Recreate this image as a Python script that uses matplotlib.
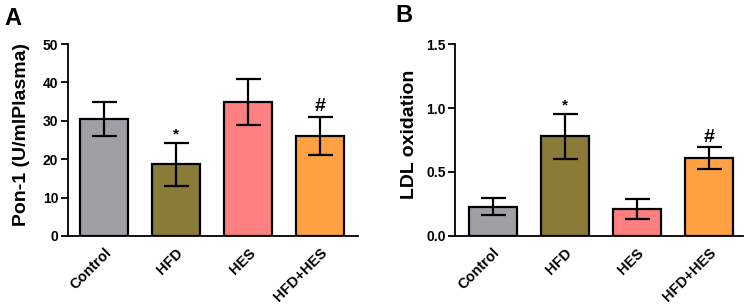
import matplotlib
matplotlib.use("Agg")
import matplotlib.pyplot as plt

groups = ["Control", "HFD", "HES", "HFD+HES"]
colors = ["#A09FA4", "#8B7B38", "#FF8080", "#FFA142"]

pon1_mean = [30.5, 18.7, 34.8, 26.1]
pon1_err = [4.5, 5.6, 6.0, 5.0]
pon1_marks = ["", "*", "", "#"]

ldl_mean = [0.23, 0.78, 0.21, 0.61]
ldl_err = [0.07, 0.175, 0.075, 0.083]
ldl_marks = ["", "*", "", "#"]

plt.rcParams['font.family'] = ['Liberation Sans', 'DejaVu Sans']
plt.rcParams['font.weight'] = 'bold'

fig = plt.figure(figsize=(7.5, 3.08), dpi=100)
ax_a = fig.add_axes([0.0907, 0.234, 0.387, 0.623])
ax_b = fig.add_axes([0.607, 0.234, 0.384, 0.623])


def draw_panel(ax, means, errs, marks, ylim, ticks, ylabel, xlim, mark_off):
    x = range(len(groups))
    ax.bar(x, means, width=0.67, color=colors, edgecolor='black', linewidth=1.6, zorder=2)
    ax.errorbar(x, means, yerr=errs, fmt='none', ecolor='black', elinewidth=1.6,
                capsize=9, capthick=1.6, zorder=3)
    for i, m in enumerate(marks):
        if m:
            ax.text(i, means[i] + errs[i] + mark_off, m, ha='center', va='bottom',
                    fontsize=14 if m == '#' else 11, fontweight='bold')
    ax.set_xlim(*xlim)
    ax.set_ylim(*ylim)
    ax.set_yticks(ticks)
    ax.set_xticks(list(x))
    ax.set_xticklabels(groups, rotation=45, ha='right', rotation_mode='anchor', fontsize=10.5)
    ax.tick_params(axis='y', labelsize=10, length=5, width=1.3, pad=2)
    ax.tick_params(axis='x', length=0, pad=7)
    ax.set_ylabel(ylabel, fontsize=14, fontweight='bold')
    ax.yaxis.set_label_coords(-0.13, 0.53)
    for s in ['top', 'right']:
        ax.spines[s].set_visible(False)
    for s in ['left', 'bottom']:
        ax.spines[s].set_linewidth(1.3)


draw_panel(ax_a, pon1_mean, pon1_err, pon1_marks, (0, 50), [0, 10, 20, 30, 40, 50],
           "Pon-1 (U/mlPlasma)", (-0.5, 3.53), 0.3)
draw_panel(ax_b, ldl_mean, ldl_err, ldl_marks, (0, 1.5), [0.0, 0.5, 1.0, 1.5],
           "LDL oxidation", (-0.52, 3.48), 0.01)
ax_b.set_yticklabels(["0.0", "0.5", "1.0", "1.5"])
ax_b.yaxis.set_label_coords(-0.128, 0.53)

fig.text(0.006, 0.94, "A", fontsize=17, fontweight='bold', va='center')
fig.text(0.527, 0.95, "B", fontsize=17, fontweight='bold', va='center')

fig.savefig("out.png", dpi=100)
